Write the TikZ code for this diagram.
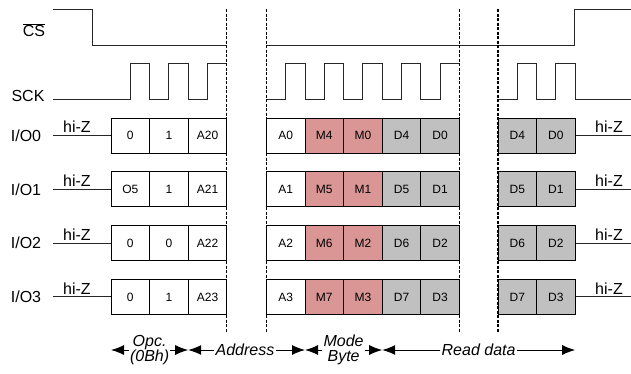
\documentclass[tikz,border=0pt]{standalone}
\usepackage{fontspec}
\setmainfont{Liberation Sans}
\usetikzlibrary{arrows.meta,positioning,calc}
\definecolor{modefill}{RGB}{217,150,148}
\definecolor{datafill}{RGB}{192,192,192}
\tikzset{
    cell/.style={draw, line width=0.8pt, minimum width=38.6pt, minimum height=35pt, inner sep=0pt,
        font=\fontsize{12}{12}\selectfont},
    modecell/.style={cell, fill=modefill},
    datacell/.style={cell, fill=datafill},
    sig/.style={draw=black!85, line width=0.9pt},
    lbl/.style={font=\fontsize{16}{16}\selectfont},
    hiz/.style={lbl, anchor=south, inner sep=2.5pt},
    brk/.style={line width=1.3pt, dash pattern=on 3pt off 1.5pt},
    dur/.style={-{Latex[length=13pt,width=10pt]}, line width=1pt},
    durlbl/.style={font=\fontsize{16}{15}\selectfont\itshape, align=center, inner sep=1pt}
}

\begin{document}
\begin{tikzpicture}[x=1pt, y=-1pt]
    \useasboundingbox (0, 0) rectangle (631, 373);
    \node[lbl] (cs) at (34, 30) {$\overline{\mbox{CS}}$};
    \node[lbl] (sck) at (28, 96) {SCK};
    \draw[sig] (53, 9) -- (92, 9) -- (92, 45) -- (226.8, 45);
    \draw[sig] (266.4, 45) -- (574, 45) -- (574, 9) -- (631, 9);
    \draw[sig] (53, 99) -- (130.3, 99)
        -- (130.3, 63) -- (149.6, 63) -- (149.6, 99) -- (168.9, 99)
        -- (168.9, 63) -- (188.2, 63) -- (188.2, 99) -- (207.5, 99)
        -- (207.5, 63) -- (226.8, 63);
    \draw[sig] (266.4, 99) -- (285.7, 99)
        -- (285.7, 63) -- (305, 63) -- (305, 99) -- (324.3, 99)
        -- (324.3, 63) -- (343.6, 63) -- (343.6, 99) -- (362.9, 99)
        -- (362.9, 63) -- (382.2, 63) -- (382.2, 99) -- (401.5, 99)
        -- (401.5, 63) -- (420.8, 63) -- (420.8, 99) -- (440.1, 99)
        -- (440.1, 63) -- (459.4, 63);
    \draw[sig] (498, 99) -- (517.3, 99)
        -- (517.3, 63) -- (536.6, 63) -- (536.6, 99) -- (555.9, 99)
        -- (555.9, 63) -- (575.2, 63) -- (575.2, 99) -- (631, 99);
    \foreach \r/\ca/\cb/\cc/\cd/\ce/\cf/\cg/\ch in {
        0/0/1/A20/A0/M4/M0/D4/D0,
        1/O5/1/A21/A1/M5/M1/D5/D1,
        2/0/0/A22/A2/M6/M2/D6/D2,
        3/0/1/A23/A3/M7/M3/D7/D3}{
        \pgfmathsetmacro{\y}{135.5 + 53.8*\r}
        \node[lbl] (io\r) at (26, \y) {I/O\r};
        \node[cell] (c\r-1) at (130.3, \y) {\ca};
        \node[cell] (c\r-2) at (168.9, \y) {\cb};
        \node[cell] (c\r-3) at (207.5, \y) {\cc};
        \node[cell] (c\r-4) at (285.7, \y) {\cd};
        \node[modecell] (c\r-5) at (324.3, \y) {\ce};
        \node[modecell] (c\r-6) at (362.9, \y) {\cf};
        \node[datacell] (c\r-7) at (401.5, \y) {\cg};
        \node[datacell] (c\r-8) at (440.1, \y) {\ch};
        \node[datacell] (c\r-9) at (517.3, \y) {\cg};
        \node[datacell] (c\r-10) at (555.9, \y) {\ch};
        \coordinate (l\r) at (53, \y);
        \coordinate (r\r) at (631, \y);
        \draw[sig] (l\r) -- (c\r-1.west);
        \draw[sig] (c\r-10.east) -- (r\r);
        \node[hiz] (hl\r) at (77, \y) {hi-Z};
        \node[hiz] (hr\r) at (609, \y) {hi-Z};
    }
    \foreach \x in {226.8, 266.4, 459.4, 498}
        \draw[brk] (\x, 9) -- (\x, 333);
    \coordinate (b0) at (111, 350);
    \coordinate (b1) at (188.2, 350);
    \coordinate (b2) at (305, 350);
    \coordinate (b3) at (382.2, 350);
    \coordinate (b4) at (575.2, 350);
    \node[durlbl] (opc) at (149.6, 350) {Opc.\\(0Bh)};
    \node[durlbl] (addr) at (245, 350) {Address};
    \node[durlbl] (mode) at (343.6, 350) {Mode\\Byte};
    \node[durlbl] (rd) at (478.6, 350) {Read data};
    \draw[dur] (opc) -- (b0);
    \draw[dur] (opc) -- (b1);
    \draw[dur] (addr) -- (b1);
    \draw[dur] (addr) -- (b2);
    \draw[dur] (mode) -- (b2);
    \draw[dur] (mode) -- (b3);
    \draw[dur] (rd) -- (b3);
    \draw[dur] (rd) -- (b4);
\end{tikzpicture}
\end{document}
